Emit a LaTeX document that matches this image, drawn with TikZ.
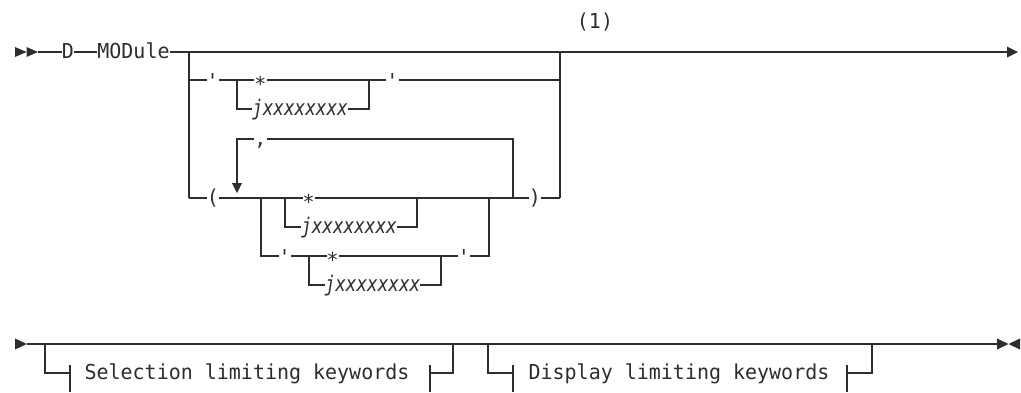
\documentclass[tikz,border=0pt]{standalone}
\usepackage{fontspec}
\newfontfamily\syn[FakeStretch=0.97]{DejaVu Sans Mono}
\newfontfamily\synit[FakeStretch=0.82]{DejaVu Sans Mono}
\definecolor{ink}{RGB}{45,45,45}
\begin{document}
\begin{tikzpicture}[x=1pt,y=-1pt,
  tx/.style={font=\syn\fontsize{20.6}{21}\selectfont, text=ink, inner sep=0pt, outer sep=0pt, text height=14pt, text depth=2pt},
  jx/.style={tx, font=\synit\itshape\fontsize{21.5}{22}\selectfont},
  wire/.style={draw=ink, line width=1.3pt},
  tip/.style={fill=ink, draw=none}]
\useasboundingbox (0,0) rectangle (1021,392);

% ---- row 1
\coordinate (s1) at (38,52);
\node[tx] (D) at (68,52) {D};
\node[tx] (MOD) at (133.5,52) {MODule};
\coordinate (e1) at (1007,52);
\draw[wire] (s1) -- (D) -- (MOD) -- (e1);
\fill[tip] (15,47) -- (26.5,52) -- (15,57) -- cycle;
\fill[tip] (26.5,47) -- (38,52) -- (26.5,57) -- cycle;
\fill[tip] (1007,46.5) -- (1018,52) -- (1007,57.5) -- cycle;
\node[tx] (fn) at (595,22) {(1)};

% outer branch
\coordinate (L1) at (189,52); \coordinate (R1) at (560,52);
\coordinate (L1d) at (189,198); \coordinate (R1d) at (560,198);
\draw[wire] (L1) -- (L1d);
\draw[wire] (R1) -- (R1d);

% row B
\coordinate (B0) at (189,80);
\node[tx] (qB1) at (212.7,80) {\raisebox{-2pt}{\textquotesingle}};
\coordinate (jB) at (237,80);
\node[tx] (sB) at (260.5,80) {\raisebox{-5pt}{*}};
\coordinate (kB) at (369,80);
\node[tx] (qB2) at (392.5,80) {\raisebox{-2pt}{\textquotesingle}};
\coordinate (B1) at (560,80);
\draw[wire] (B0) -- (qB1) -- (sB) -- (qB2) -- (B1);
% row C
\coordinate (jC) at (237,109);
\node[jx] (xC) at (300,109) {jxxxxxxxx};
\coordinate (kC) at (369,109);
\draw[wire] (jB) -- (jC) -- (xC) -- (kC) -- (kB);

% repeat loop
\coordinate (lpA) at (237,183); \coordinate (lpT) at (237,139);
\node[tx] (cm) at (260.5,139) {,};
\coordinate (lpR) at (513,139); \coordinate (lpRd) at (513,198);
\draw[wire] (lpA) -- (lpT) -- (cm) -- (lpR) -- (lpRd);
\fill[tip] (232,183) -- (242,183) -- (237,193) -- cycle;

% row D
\node[tx] (po) at (213,198) {(};
\node[tx] (sD) at (308.7,198) {\raisebox{-5pt}{*}};
\node[tx] (pc) at (535,198) {)};
\draw[wire] (L1d) -- (po) -- (sD) -- (pc) -- (R1d);
\coordinate (iL) at (261,198); \coordinate (iLd) at (261,256);
\coordinate (iR) at (489,198); \coordinate (iRd) at (489,256);
% row E
\coordinate (jD) at (285,198); \coordinate (jE) at (285,227);
\node[jx] (xE) at (349,227) {jxxxxxxxx};
\coordinate (kE) at (417,227); \coordinate (kD) at (417,198);
\draw[wire] (jD) -- (jE) -- (xE) -- (kE) -- (kD);
% row F
\node[tx] (qF1) at (284.8,256) {\raisebox{-2pt}{\textquotesingle}};
\coordinate (jF) at (309,256);
\node[tx] (sF) at (332.6,256) {\raisebox{-5pt}{*}};
\coordinate (kF) at (441,256);
\node[tx] (qF2) at (464,256) {\raisebox{-2pt}{\textquotesingle}};
\draw[wire] (iL) -- (iLd) -- (qF1) -- (sF) -- (qF2) -- (iRd) -- (iR);
% row G
\coordinate (jG) at (309,285);
\node[jx] (xG) at (372.5,285) {jxxxxxxxx};
\coordinate (kG) at (441,285);
\draw[wire] (jF) -- (jG) -- (xG) -- (kG) -- (kF);

% ---- row 2
\coordinate (s2) at (27,344); \coordinate (e2) at (997,344);
\draw[wire] (s2) -- (e2);
\fill[tip] (15,338.5) -- (27,344) -- (15,349.5) -- cycle;
\fill[tip] (997,338.5) -- (1008.5,344) -- (997,349.5) -- cycle;
\fill[tip] (1020,338.5) -- (1008.5,344) -- (1020,349.5) -- cycle;
\draw[ink, line width=2.6pt] (877,344) -- (901,344);

% fragment 1
\coordinate (f1a) at (45,344); \coordinate (f1b) at (45,373); \coordinate (f1c) at (70,373);
\coordinate (f1t) at (70,365); \coordinate (f1u) at (70,392);
\node[tx] (sel) at (247,373) {Selection limiting keywords};
\coordinate (f1d) at (430,373); \coordinate (f1e) at (453,373); \coordinate (f1f) at (453,344);
\coordinate (f1v) at (430,365); \coordinate (f1w) at (430,392);
\draw[wire] (f1a) -- (f1b) -- (f1c);
\draw[wire] (f1t) -- (f1u);
\draw[wire] (f1v) -- (f1w);
\draw[wire] (f1d) -- (f1e) -- (f1f);

% fragment 2
\coordinate (f2a) at (488,344); \coordinate (f2b) at (488,373); \coordinate (f2c) at (513,373);
\coordinate (f2t) at (513,365); \coordinate (f2u) at (513,392);
\node[tx] (dsp) at (679,373) {Display limiting keywords};
\coordinate (f2d) at (847,373); \coordinate (f2e) at (872,373); \coordinate (f2f) at (872,344);
\coordinate (f2v) at (847,365); \coordinate (f2w) at (847,392);
\draw[wire] (f2a) -- (f2b) -- (f2c);
\draw[wire] (f2t) -- (f2u);
\draw[wire] (f2v) -- (f2w);
\draw[wire] (f2d) -- (f2e) -- (f2f);
\end{tikzpicture}
\end{document}
